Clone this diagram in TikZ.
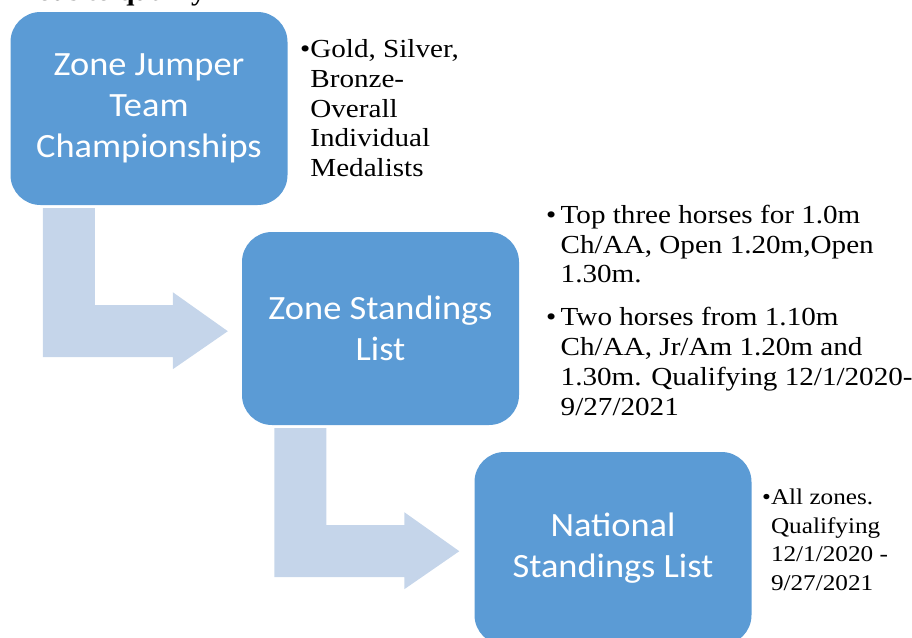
\documentclass[tikz,border=0pt]{standalone}
\usepackage{fontspec}
\setmainfont{Liberation Serif}
\newfontfamily\boxfont{Carlito}[FakeStretch=1.07]
\newfontfamily\notefont{Liberation Serif}[FakeStretch=1.12]
\usepackage{xcolor}
\definecolor{boxblue}{HTML}{5B9BD5}
\definecolor{arrowblue}{HTML}{C5D5EA}

\begin{document}
\begin{tikzpicture}[
    x=1pt, y=-1pt,
    stage/.style={
        rectangle,
        rounded corners=30pt,
        fill=boxblue,
        minimum width=277pt,
        minimum height=193pt,
        inner sep=0pt,
        align=center,
        text=white,
        font=\boxfont\fontsize{34}{41}\selectfont
    },
    note/.style={
        anchor=base west,
        inner sep=0pt,
        align=left,
        font=\notefont\fontsize{26}{29.8}\selectfont
    },
    smallnote/.style={
        note,
        font=\notefont\fontsize{22.5}{28.5}\selectfont
    },
    bentarrow/.style={
        fill=arrowblue
    }
]
\useasboundingbox (0,0) rectangle (912,637);

% Titel (oben abgeschnitten)
\node[anchor=base east, inner sep=0pt, font=\notefont\bfseries\fontsize{26}{30}\selectfont] (title) at (206,1) {ous to qualify};

% Stufen
\node[stage] (jumper) at (149,108.5) {Zone Jumper\\Team\\Championships};
\node[stage] (zone) at (380.5,328.5) {Zone Standings\\List};
\node[stage] (national) at (613,548.5) {National\\Standings List};

% Abgewinkelte Pfeile
\foreach \src in {jumper,zone}{
    \fill[bentarrow, shift={(\src.south west)}]
        (32.5,3) -- (84.5,3) -- (84.5,100) -- (162.5,100) -- (162.5,87)
        -- (217.5,126) -- (162.5,164) -- (162.5,152) -- (32.5,152) -- cycle;
}

% Stichpunkte (Anker = Grundlinie der letzten Zeile)
\node[note] (medals) at (300,176.7) {%
    •Gold, Silver,\\
    \hphantom{•}Bronze-\\
    \hphantom{•}Overall\\
    \hphantom{•}Individual\\
    \hphantom{•}Medalists};

\node[note] (horses) at (546,415) {%
    •\,Top three horses for 1.0m\\
    \hphantom{•\,}Ch/AA, Open 1.20m,Open\\
    \hphantom{•\,}1.30m.\\[13pt]
    •\,Two horses from 1.10m\\
    \hphantom{•\,}Ch/AA, Jr/Am 1.20m and\\
    \hphantom{•\,}1.30m. Qualifying 12/1/2020-\\
    \hphantom{•\,}9/27/2021};

\node[smallnote] (zones) at (762,590) {%
    •All zones.\\
    \hphantom{•}Qualifying\\
    \hphantom{•}12/1/2020 -\\
    \hphantom{•}9/27/2021};

\end{tikzpicture}
\end{document}
